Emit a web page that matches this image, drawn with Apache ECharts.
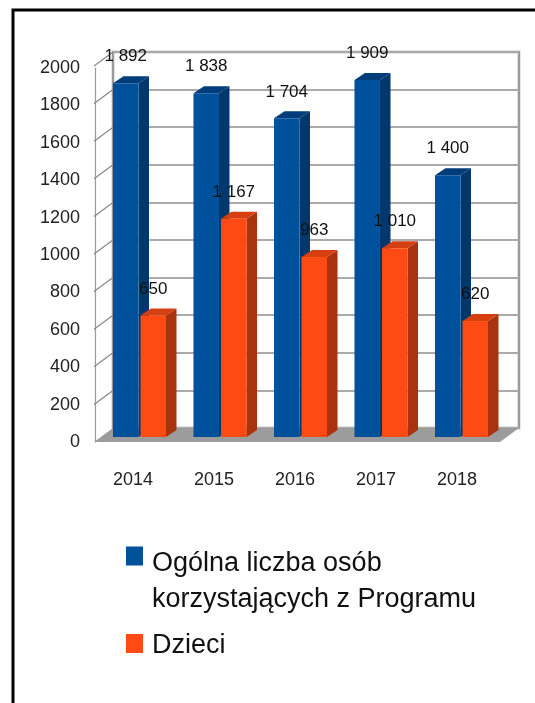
<!DOCTYPE html>
<html>
<head>
<meta charset="utf-8">
<script src="https://cdn.jsdelivr.net/npm/echarts@6/dist/echarts.min.js"></script>
<style>
html, body { margin: 0; padding: 0; background: #fff; }
#chart-container { width: 535px; height: 703px; }
</style>
</head>
<body>
<div id="chart-container"></div>
<script>
const years = ['2014', '2015', '2016', '2017', '2018'];
const totalPeople = [1892, 1838, 1704, 1909, 1400];
const children = [650, 1167, 963, 1010, 620];
const yTicks = [0, 200, 400, 600, 800, 1000, 1200, 1400, 1600, 1800, 2000];
const seriesNames = ['Ogólna liczba osób\nkorzystających z Programu', 'Dzieci'];

const chartDom = document.getElementById('chart-container');
const myChart = echarts.init(chartDom);

const FONT = 'Liberation Sans';
const BAR_W = 25.5;
const DX = 10.5, DY = -7;      // depth of each bar
const WX = -19, WY = 14;       // back wall -> front edge offset

// polish style thousands: "1 892"
const fmt = v => v >= 1000 ? Math.floor(v / 1000) + ' ' + String(v % 1000).padStart(3, '0') : String(v);

// side + top faces of a bar, placed left or right of the category centre
const bar3d = (left, topColor, sideColor) => (params, api) => {
    const i = api.value(0);
    const top = api.coord([i, api.value(1)]);
    const base = api.coord([i, 0]);
    const gap = 1;
    const x0 = left ? top[0] - BAR_W - gap : top[0] + gap;
    const x1 = x0 + BAR_W;
    return {
        type: 'group',
        children: [
            {
                type: 'polygon',
                shape: { points: [[x1, top[1]], [x1 + DX, top[1] + DY], [x1 + DX, base[1] + DY], [x1, base[1]]] },
                style: { fill: sideColor }
            },
            {
                type: 'polygon',
                shape: { points: [[x0, top[1]], [x0 + DX, top[1] + DY], [x1 + DX, top[1] + DY], [x1, top[1]]] },
                style: { fill: topColor }
            }
        ]
    };
};

// legend squares sit at the top of a taller (invisible) box so the text lines up with the first line
const legendText = { fontSize: 27, lineHeight: 36, color: '#111', fontFamily: FONT, padding: [0, 0, 0, 4] };

const option = {
    animation: false,
    textStyle: { fontFamily: FONT },
    graphic: [
        {
            type: 'rect',
            shape: { x: 13, y: 10, width: 620, height: 800 },
            style: { fill: 'none', stroke: '#000', lineWidth: 3 },
            silent: true
        }
    ],
    legend: [
        {
            data: [seriesNames[0]],
            left: 126,
            top: 546,
            padding: 0,
            itemWidth: 17,
            itemHeight: 71,
            icon: 'path://M0,0H17V19H0Z M0,71L17,71',
            textStyle: legendText
        },
        {
            data: [seriesNames[1]],
            left: 126,
            top: 628,
            padding: 0,
            itemWidth: 17,
            itemHeight: 24,
            icon: 'path://M0,0H17V19H0Z M0,24L17,24',
            textStyle: legendText
        }
    ],
    grid: [
        // back wall
        { left: 113, right: 16, top: 52, bottom: 275, show: true, borderColor: '#9a9a9a', borderWidth: 2.5, backgroundColor: '#fff' },
        // front plane: value labels
        { left: 95, width: 1, top: 68, bottom: 261 },
        // bars
        { left: 99.25, right: 33.25, top: 63, bottom: 266 },
        // front plane: year labels
        { left: 92.5, right: 37.5, top: 68, bottom: 261 }
    ],
    xAxis: [
        { gridIndex: 0, type: 'value', min: 0, max: 1, show: false },
        { gridIndex: 1, type: 'value', min: 0, max: 1, show: false },
        { gridIndex: 2, type: 'category', data: years, show: false },
        {
            gridIndex: 3, type: 'category', data: years,
            axisLine: { show: false }, axisTick: { show: false },
            axisLabel: { margin: 29, fontSize: 18, color: '#222', fontFamily: FONT }
        }
    ],
    yAxis: [
        {
            gridIndex: 0, type: 'value', min: 0, max: 2000, interval: 200,
            axisLabel: { show: false }, axisTick: { show: false },
            axisLine: { show: false },
            splitLine: { lineStyle: { color: '#aaa', width: 2 } }
        },
        {
            gridIndex: 1, type: 'value', min: 0, max: 2000, interval: 200,
            axisLine: { show: true, lineStyle: { color: '#999', width: 1.2 } },
            axisTick: { show: false },
            splitLine: { show: false },
            axisLabel: { margin: 15, fontSize: 18, color: '#222', fontFamily: FONT, formatter: v => String(v) }
        },
        { gridIndex: 2, type: 'value', min: 0, max: 2000, show: false },
        { gridIndex: 3, type: 'value', min: 0, max: 2000, show: false }
    ],
    series: [
        {
            // floor
            type: 'custom',
            xAxisIndex: 0, yAxisIndex: 0,
            z: 1,
            silent: true,
            data: [[0, 0]],
            renderItem: (params, api) => {
                const a = api.coord([0, 0]);
                const b = api.coord([1, 0]);
                return {
                    type: 'polygon',
                    shape: { points: [a, b, [b[0] + WX, b[1] + WY], [a[0] + WX, a[1] + WY]] },
                    style: { fill: '#9c9c9c' }
                };
            }
        },
        {
            // left side wall
            type: 'custom',
            xAxisIndex: 0, yAxisIndex: 0,
            z: 1,
            silent: true,
            data: yTicks.slice(1).map(v => [0, v]),
            renderItem: (params, api) => {
                const p = api.coord([0, api.value(1)]);
                return {
                    type: 'line',
                    shape: { x1: p[0], y1: p[1], x2: p[0] + WX, y2: p[1] + WY },
                    style: { stroke: '#888', lineWidth: 1.2 }
                };
            }
        },
        {
            name: seriesNames[0],
            type: 'bar',
            xAxisIndex: 2, yAxisIndex: 2,
            z: 2,
            data: totalPeople,
            barWidth: BAR_W,
            barGap: '8%',
            itemStyle: { color: '#00519c' },
            label: {
                show: true, position: 'top', distance: 18,
                fontSize: 17, color: '#111', fontFamily: FONT,
                formatter: p => fmt(p.value)
            }
        },
        {
            type: 'custom',
            xAxisIndex: 2, yAxisIndex: 2,
            z: 2,
            silent: true,
            data: totalPeople.map((v, i) => [i, v]),
            renderItem: bar3d(true, '#003d7a', '#00386d')
        },
        {
            name: seriesNames[1],
            type: 'bar',
            xAxisIndex: 2, yAxisIndex: 2,
            z: 3,
            data: children,
            barWidth: BAR_W,
            barGap: '8%',
            itemStyle: { color: '#ff4b13' },
            label: {
                show: true, position: 'top', distance: 18,
                fontSize: 17, color: '#111', fontFamily: FONT,
                formatter: p => fmt(p.value)
            }
        },
        {
            type: 'custom',
            xAxisIndex: 2, yAxisIndex: 2,
            z: 3,
            silent: true,
            data: children.map((v, i) => [i, v]),
            renderItem: bar3d(false, '#d63f10', '#a9330e')
        }
    ]
};

myChart.setOption(option);
</script>
</body>
</html>
